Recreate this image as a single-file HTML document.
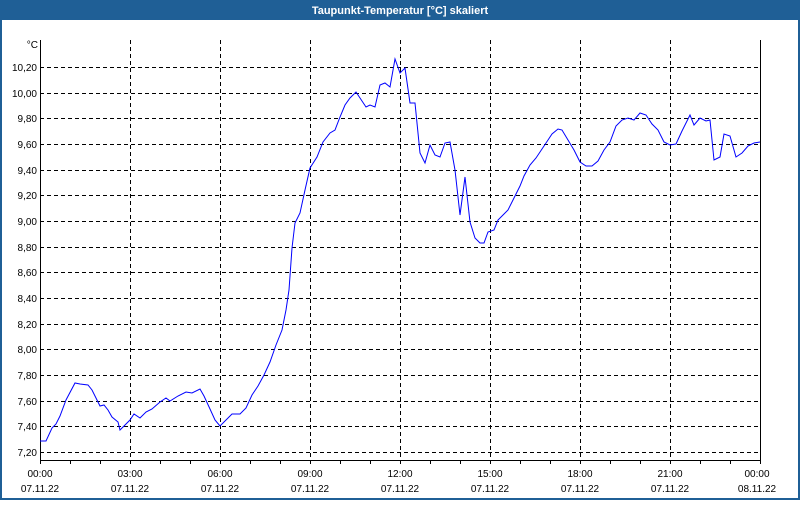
<!DOCTYPE html>
<html><head><meta charset="utf-8"><style>
html,body{margin:0;padding:0;background:#fff;}
body{width:800px;height:500px;overflow:hidden;font-family:"Liberation Sans","DejaVu Sans",sans-serif;}
</style></head><body>
<svg width="800" height="500" xmlns="http://www.w3.org/2000/svg" font-family="Liberation Sans, DejaVu Sans, sans-serif">
<rect x="0" y="0" width="800" height="500" fill="#1f5f96"/>
<rect x="2" y="20" width="796" height="478" fill="#fff"/>
<text x="400" y="14" font-size="11" font-weight="bold" fill="#fff" text-anchor="middle">Taupunkt-Temperatur [°C] skaliert</text>
<g stroke="#000" stroke-dasharray="4,3" stroke-width="1">
<line x1="40" x2="760" y1="67.5" y2="67.5"/><line x1="40" x2="760" y1="93.5" y2="93.5"/><line x1="40" x2="760" y1="118.5" y2="118.5"/><line x1="40" x2="760" y1="144.5" y2="144.5"/><line x1="40" x2="760" y1="170.5" y2="170.5"/><line x1="40" x2="760" y1="195.5" y2="195.5"/><line x1="40" x2="760" y1="221.5" y2="221.5"/><line x1="40" x2="760" y1="247.5" y2="247.5"/><line x1="40" x2="760" y1="272.5" y2="272.5"/><line x1="40" x2="760" y1="298.5" y2="298.5"/><line x1="40" x2="760" y1="324.5" y2="324.5"/><line x1="40" x2="760" y1="349.5" y2="349.5"/><line x1="40" x2="760" y1="375.5" y2="375.5"/><line x1="40" x2="760" y1="401.5" y2="401.5"/><line x1="40" x2="760" y1="426.5" y2="426.5"/><line x1="40" x2="760" y1="452.5" y2="452.5"/>
<line x1="130.5" x2="130.5" y1="40" y2="460"/><line x1="220.5" x2="220.5" y1="40" y2="460"/><line x1="310.5" x2="310.5" y1="40" y2="460"/><line x1="400.5" x2="400.5" y1="40" y2="460"/><line x1="490.5" x2="490.5" y1="40" y2="460"/><line x1="580.5" x2="580.5" y1="40" y2="460"/><line x1="670.5" x2="670.5" y1="40" y2="460"/>
</g>
<g stroke="#000" stroke-width="1">
<polyline fill="none" points="40.5,40 40.5,460.5 760.5,460.5 760.5,40"/>
<path d="M70.5 460v4M100.5 460v4M130.5 460v4M160.5 460v4M190.5 460v4M220.5 460v4M250.5 460v4M280.5 460v4M310.5 460v4M340.5 460v4M370.5 460v4M400.5 460v4M430.5 460v4M460.5 460v4M490.5 460v4M520.5 460v4M550.5 460v4M580.5 460v4M610.5 460v4M640.5 460v4M670.5 460v4M700.5 460v4M730.5 460v4M40.5 460v4M760.5 460v4"/>
</g>
<g font-size="10" fill="#000" text-anchor="end">
<text x="38" y="48">°C</text>
<text x="37" y="71">10,20</text><text x="37" y="97">10,00</text><text x="37" y="122">9,80</text><text x="37" y="148">9,60</text><text x="37" y="174">9,40</text><text x="37" y="199">9,20</text><text x="37" y="225">9,00</text><text x="37" y="251">8,80</text><text x="37" y="276">8,60</text><text x="37" y="302">8,40</text><text x="37" y="328">8,20</text><text x="37" y="353">8,00</text><text x="37" y="379">7,80</text><text x="37" y="405">7,60</text><text x="37" y="430">7,40</text><text x="37" y="456">7,20</text>
</g>
<g font-size="10" fill="#000" text-anchor="middle">
<text x="40" y="477">00:00</text><text x="40" y="492">07.11.22</text>
<text x="130" y="477">03:00</text><text x="130" y="492">07.11.22</text>
<text x="220" y="477">06:00</text><text x="220" y="492">07.11.22</text>
<text x="310" y="477">09:00</text><text x="310" y="492">07.11.22</text>
<text x="400" y="477">12:00</text><text x="400" y="492">07.11.22</text>
<text x="490" y="477">15:00</text><text x="490" y="492">07.11.22</text>
<text x="580" y="477">18:00</text><text x="580" y="492">07.11.22</text>
<text x="670" y="477">21:00</text><text x="670" y="492">07.11.22</text>
<text x="757" y="477">00:00</text><text x="757" y="492">08.11.22</text>
</g>
<polyline fill="none" stroke="#0000ff" stroke-width="1" points="40,441 46,441 52,428 56,424 60,416 66,400 75,383 80,384 88,385 92,390 100,406 104,405 108,410 112,417 118,422 120,430 124,426 130,420 134,414 140,418 146,412 152,409 160,402 166,398 170,401 178,396 186,392 192,393 200,389 204,396 210,409 215,420 220,426 226,420 232,414 240,414 246,408 252,395 258,386 264,375 270,362 276,345 282,330 286,310 289,290 292,248 295,223 300,213 305,190 310,168 317,157 323,142 330,133 335,130 340,117 345,105 350,98 356,92 360,98 366,107 370,105 375,107 380,85 385,83 390,87 395,59 400,73 405,68 410,103 415,103 420,153 425,163 430,145 435,155 440,157 445,143 450,142 455,170 460,215 465,177 470,222 475,238 480,243 484,243 488,232 494,230 498,220 504,214 508,210 514,198 520,186 524,176 530,165 536,158 542,149 548,140 552,134 558,129 562,130 568,140 574,150 580,162 586,166 592,166 598,161 604,150 610,142 616,126 622,120 628,118 634,120 640,113 646,115 652,124 658,130 664,142 670,145 676,144 682,131 690,115 694,125 700,118 706,121 710,120 714,160 720,157 724,134 730,136 736,157 742,153 748,146 754,143 760,142"/>
</svg>
</body></html>
